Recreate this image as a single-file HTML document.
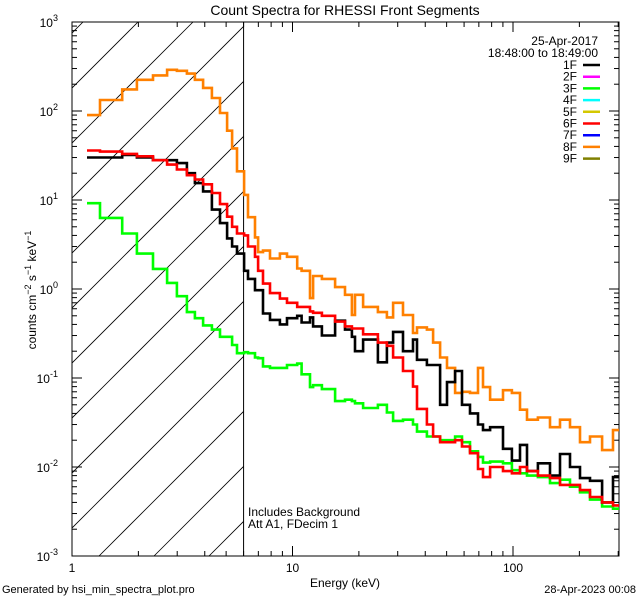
<!DOCTYPE html>
<html><head><meta charset="utf-8"><style>
html,body{margin:0;padding:0;background:#fff;width:640px;height:600px;overflow:hidden;}
svg{display:block;font-family:"Liberation Sans",sans-serif;overflow:hidden;}
</style></head><body>
<svg id="chart" width="640" height="600" viewBox="0 0 640 600" xmlns="http://www.w3.org/2000/svg">
<rect width="640" height="600" fill="#fff"/>
<text x="345" y="15" font-size="14" text-anchor="middle">Count Spectra for RHESSI Front Segments</text>
<text x="345" y="587" font-size="12" text-anchor="middle">Energy (keV)</text>
<text transform="translate(36,290) rotate(-90)" font-size="12" text-anchor="middle">counts cm<tspan dy="-5" font-size="9">−2</tspan><tspan dy="5"> s</tspan><tspan dy="-5" font-size="9">−1</tspan><tspan dy="5"> keV</tspan><tspan dy="-5" font-size="9">−1</tspan></text>
<text x="2" y="593" font-size="11">Generated by hsi_min_spectra_plot.pro</text>
<text x="636" y="593" font-size="11" text-anchor="end">28-Apr-2023 00:08</text>
<text x="598" y="45" font-size="12" text-anchor="end">25-Apr-2017</text>
<text x="598" y="57" font-size="12" text-anchor="end">18:48:00 to 18:49:00</text>
<text x="248" y="516" font-size="12">Includes Background</text>
<text x="248" y="528" font-size="12">Att A1, FDecim 1</text>
<g id="plot"></g>
</svg>
<script>
// Data
const edges = [1.17,1.34,1.69,1.97,2.33,2.70,2.99,3.32,3.61,3.93,4.31,4.69,5.05,5.32,5.60,6.03,6.28,6.76,6.98,7.35,7.91,8.77,9.44,10.5,11.0,12.0,12.4,13.6,15.6,17.3,18.6,19.2,20.9,24.4,26.8,28.6,31.7,35.2,36.7,40.7,43.4,46.7,50.2,54.6,58.7,63.8,69.4,73.1,78.7,90.1,98.9,107.6,115.7,129.7,147.1,163.3,181.4,201.3,223.4,253.5,284.2,302.5];
const seg1F = [30,30,32,30,28,28,26,20,15.5,12.5,7.8,5.5,3.7,3.0,2.5,
 1.6,1.3,0.97,0.97,0.53,0.45,0.4,0.47,0.5,0.42,0.48,0.38,0.3,0.44,0.35,0.29,0.2,0.27,0.15,0.25,0.33,0.2,0.27,0.16,0.14,0.14,0.05,0.09,0.12,0.05,0.04,0.03,0.026,0.028,0.016,0.0118,0.0177,0.009,0.011,0.008,0.014,0.01,0.0075,0.007,0.004,0.0077];
const seg3F = [9.2,6.3,4.2,2.5,1.68,1.17,0.83,0.55,0.47,0.39,0.35,0.29,0.29,0.235,0.19,
 0.195,0.19,0.17,0.167,0.135,0.13,0.13,0.14,0.145,0.11,0.079,0.083,0.075,0.055,0.057,0.055,0.052,0.046,0.05,0.041,0.033,0.034,0.03,0.025,0.022,0.022,0.02,0.02,0.022,0.019,0.015,0.013,0.0112,0.0115,0.011,0.0092,0.0085,0.008,0.0077,0.0066,0.0072,0.006,0.0052,0.0043,0.0036,0.0034];
const seg6F = [36,35,33,31,28,25,22,19,17,15,12,9,6.5,5,4.2,
 4.0,3.0,2.3,1.6,1.15,0.9,0.78,0.7,0.63,0.63,0.56,0.54,0.5,0.43,0.38,0.36,0.36,0.31,0.25,0.23,0.17,0.12,0.08,0.045,0.03,0.022,0.019,0.019,0.02,0.017,0.0143,0.0095,0.0077,0.010,0.009,0.0085,0.010,0.009,0.008,0.0075,0.0063,0.0063,0.0055,0.0046,0.004,0.0037];
const seg8F = [90,133,175,224,251,290,283,263,224,182,140,95,60,38,21,
 11.4,6.4,3.8,2.6,2.7,2.2,2.5,2.3,1.7,1.6,0.79,1.4,1.3,1.05,0.86,0.51,0.86,0.63,0.55,0.48,0.70,0.51,0.32,0.37,0.35,0.25,0.17,0.13,0.068,0.070,0.068,0.13,0.079,0.057,0.073,0.068,0.044,0.034,0.036,0.028,0.034,0.028,0.019,0.022,0.0155,0.026];
const legendLabels = ['1F','2F','3F','4F','5F','6F','7F','8F','9F'];
const legendColors = ['#000000','#ff00ff','#00ff00','#00ffff','#d4c800','#ff0000','#0000ff','#ff8000','#808000'];
const yTickExps = [-3,-2,-1,0,1,2,3];
const xTickValues = [1,10,100];
const xTickLabels = ['1','10','100'];
const bgCutoff = 6.0;

const L=72,R=619,T=22,B=556;
const xMin=1,xMax=302.5,yMin=1e-3,yMax=1e3;
const NS='http://www.w3.org/2000/svg';
function sx(v){return L+(Math.log10(v)-Math.log10(xMin))/(Math.log10(xMax)-Math.log10(xMin))*(R-L);}
function sy(v){return B-(Math.log10(v)-Math.log10(yMin))/(Math.log10(yMax)-Math.log10(yMin))*(B-T);}
const g=document.getElementById('plot');
function mk(tag,attrs,parent){const e=document.createElementNS(NS,tag);for(const k in attrs)e.setAttribute(k,attrs[k]);(parent||g).appendChild(e);return e;}

const defs=mk('defs',{});
const cp=mk('clipPath',{id:'hclip'},defs);
mk('rect',{x:L,y:T,width:sx(bgCutoff)-L,height:B-T},cp);
const cp2=mk('clipPath',{id:'pclip'},defs);
mk('rect',{x:L,y:T,width:R-L,height:B-T},cp2);

const hatch=mk('g',{'clip-path':'url(#hclip)'});


for(let c=105;c<=820;c+=55){
  mk('line',{x1:c-B,y1:B,x2:c-T,y2:T,stroke:'#000','stroke-width':0.8},hatch);
}
const cut=mk('line',{x1:sx(bgCutoff),y1:T,x2:sx(bgCutoff),y2:B,stroke:'#000','stroke-width':1});



const box=mk('rect',{x:L,y:T,width:R-L,height:B-T,fill:'none',stroke:'#000','stroke-width':1});



const xt=mk('g',{});


for(let d=1;d<=100;d*=10){for(let m=1;m<=9;m++){const v=d*m;if(v>xMax)break;const x=sx(v);const len=m===1?10:5;
  mk('line',{x1:x,y1:B,x2:x,y2:B-len,stroke:'#000'},xt);mk('line',{x1:x,y1:T,x2:x,y2:T+len,stroke:'#000'},xt);}}
xTickValues.forEach((v,i)=>{const t=mk('text',{x:sx(v),y:B+16,'font-size':12,'text-anchor':'middle'},xt);t.textContent=xTickLabels[i];
  
  });
const yt=mk('g',{});


yTickExps.forEach(e=>{for(let m=1;m<=9;m++){const v=m*Math.pow(10,e);if(v>yMax*1.0001)break;const y=sy(v);const len=m===1?10:5;
  mk('line',{x1:L,y1:y,x2:L+len,y2:y,stroke:'#000'},yt);mk('line',{x1:R,y1:y,x2:R-len,y2:y,stroke:'#000'},yt);}
  const t=mk('text',{x:L-14,y:sy(Math.pow(10,e))+5,'font-size':12,'text-anchor':'end'},yt);
  
  
  t.innerHTML='10<tspan dy="-6" font-size="9">'+e+'</tspan>';});

function step(vals,color,name){let d='';for(let i=0;i<vals.length;i++){const x0=sx(edges[i]),x1=sx(edges[i+1]),y=sy(vals[i]);d+=(i===0?'M':'L')+x0.toFixed(1)+','+y.toFixed(1)+'L'+x1.toFixed(1)+','+y.toFixed(1);}
  const p=mk('path',{d:d,fill:'none',stroke:color,'stroke-width':2.6,'clip-path':'url(#pclip)'});
  
  }
step(seg8F,legendColors[7],'series-8f');
step(seg3F,legendColors[2],'series-3f');
step(seg1F,legendColors[0],'series-1f');
step(seg6F,legendColors[5],'series-6f');

const lg=mk('g',{});


legendLabels.forEach((lab,i)=>{const y=65+i*11.7;
  const t=mk('text',{x:577,y:y+4,'font-size':12,'text-anchor':'end'},lg);t.textContent=lab;
  
  
  const l=mk('line',{x1:583,y1:y,x2:600,y2:y,stroke:legendColors[i],'stroke-width':2.5},lg);
  
  });
</script>
</body></html>
